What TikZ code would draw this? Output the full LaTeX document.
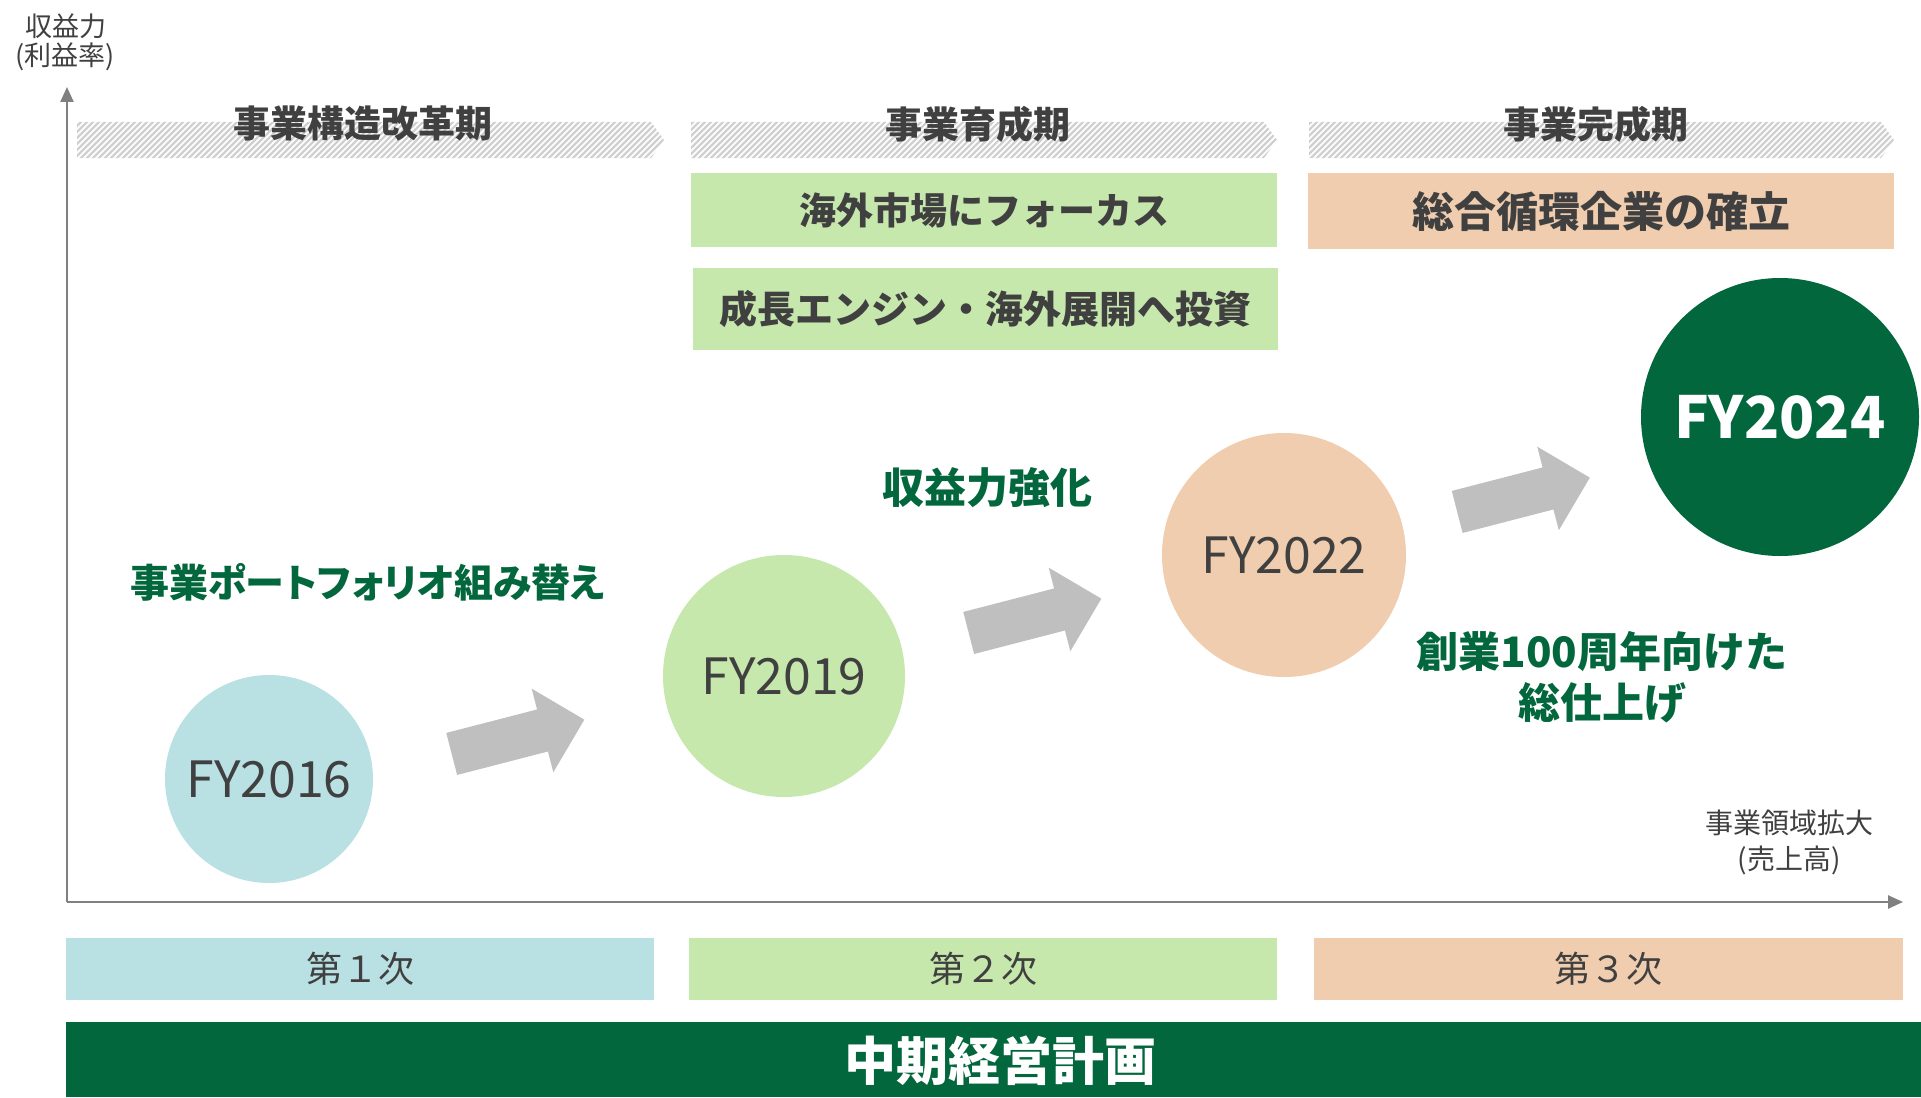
\documentclass[tikz,border=0pt]{standalone}
\usepackage{fontspec}
\setmainfont{Noto Sans CJK JP}
\newfontfamily\jpp{Noto Sans CJK JP}[RawFeature=+palt]
\usetikzlibrary{shapes.arrows,arrows.meta}
\definecolor{dkgreen}{RGB}{3,103,61}
\definecolor{ltblue}{RGB}{185,225,228}
\definecolor{ltgreen}{RGB}{198,232,173}
\definecolor{peach}{RGB}{239,205,174}
\definecolor{arrowgray}{RGB}{191,191,191}
\definecolor{axisgray}{RGB}{128,128,128}
\definecolor{txtgray}{RGB}{64,64,64}
\definecolor{hatchgray}{RGB}{208,208,208}
\newcommand\fsz[2]{\fontsize{#1}{#2}\selectfont}
\tikzset{
  axisline/.style={axisgray, line width=2.5pt, -{Triangle[length=15pt,width=13pt]}},
  axislabel/.style={inner sep=0pt, text=txtgray, font=\fsz{27}{33}, align=center},
  hatchline/.style={hatchgray, line width=2.2pt},
  bannerlabel/.style={inner sep=0pt, text=txtgray, font=\fsz{37}{40}\bfseries},
  focusbox/.style={rectangle, inner sep=0pt, text=txtgray, font=\bfseries},
  fycircle/.style={circle, inner sep=0pt, text=txtgray, font=\fsz{50}{55}},
  blockarrow/.style={single arrow, fill=arrowgray, draw=none, minimum height=137pt,
     single arrow head extend=21.5pt, single arrow tip angle=90,
     inner sep=0pt, rotate=14.5, anchor=tail},
  greenlabel/.style={inner sep=0pt, text=dkgreen, font=\fsz{42}{51}\bfseries, align=center},
  phasebox/.style={rectangle, inner sep=0pt, minimum height=62pt, text=txtgray, font=\fsz{36}{40}},
}
\begin{document}
\begin{tikzpicture}[x=1pt,y=-1pt]
\useasboundingbox (0,0) rectangle (1921,1097);

% axes
\coordinate (O) at (67,902);
\coordinate (ytop) at (67,87);
\coordinate (xend) at (1903,902);
\draw[axisline] (O) -- (ytop);
\draw[axisline] (O) -- (xend);
\node[axislabel] (ylab1) at (66,26) {収益力};
\node[axislabel] (ylab2) at (65,57) {(利益率)};
\node[axislabel, font=\fsz{28}{33}] (xlab1) at (1789,823) {事業領域拡大};
\node[axislabel, font=\fsz{28}{33}] (xlab2) at (1789,860) {(売上高)};

% hatched banners
\begin{scope}
  \clip (77,122) -- (651,122) -- (664,140) -- (651,158) -- (77,158) -- cycle;
  \foreach \k in {37,43,...,670} \draw[hatchline] (\k,160) -- ++(42,-42);
\end{scope}
\begin{scope}
  \clip (691,122) -- (1264,122) -- (1277,140) -- (1264,158) -- (691,158) -- cycle;
  \foreach \k in {649,655,...,1282} \draw[hatchline] (\k,160) -- ++(42,-42);
\end{scope}
\begin{scope}
  \clip (1309,122) -- (1881,122) -- (1894,140) -- (1881,158) -- (1309,158) -- cycle;
  \foreach \k in {1267,1273,...,1900} \draw[hatchline] (\k,160) -- ++(42,-42);
\end{scope}
\node[bannerlabel] (ban1) at (363,124) {事業構造改革期};
\node[bannerlabel] (ban2) at (978,124) {事業育成期};
\node[bannerlabel] (ban3) at (1596,124) {事業完成期};

% focus boxes
\node[focusbox, fill=ltgreen, minimum width=586pt, minimum height=74pt, font=\fsz{37}{40}\bfseries] (focus1) at (984,210) {海外市場にフォーカス};
\node[focusbox, fill=ltgreen, minimum width=585pt, minimum height=82pt, font=\fsz{38}{40}\bfseries] (focus2) at (985.5,309) {成長エンジン・海外展開へ投資};
\node[focusbox, fill=peach, minimum width=586pt, minimum height=76pt, font=\fsz{42}{45}\bfseries] (focus3) at (1601,211) {総合循環企業の確立};

% milestone circles
\node[fycircle, fill=ltblue, minimum size=208pt] (fy16) at (269,779) {FY2016};
\node[fycircle, fill=ltgreen, minimum size=242pt] (fy19) at (784,676) {FY2019};
\node[fycircle, fill=peach, minimum size=244pt] (fy22) at (1284,555) {FY2022};
\node[fycircle, fill=dkgreen, minimum size=278pt, text=white, font=\fsz{58}{60}\bfseries] (fy24) at (1780,417) {FY2024};

% block arrows (placed by their tail)
\node[blockarrow] (arr1) at (451.5,754) {\rule{0pt}{43pt}};
\node[blockarrow] (arr2) at (968.5,633) {\rule{0pt}{43pt}};
\node[blockarrow] (arr3) at (1457,512) {\rule{0pt}{43pt}};

% green labels
\node[greenlabel, font=\fsz{39}{45}\bfseries\jpp] (lab1) at (368,582) {事業ポートフォリオ組み替え};
\node[greenlabel] (lab2) at (987,488) {収益力強化};
\node[greenlabel] (lab3) at (1602,677) {創業100周年向けた\\総仕上げ};

% phase boxes
\node[phasebox, fill=ltblue, minimum width=588pt] (ph1) at (360,969) {第１次};
\node[phasebox, fill=ltgreen, minimum width=588pt] (ph2) at (983,969) {第２次};
\node[phasebox, fill=peach, minimum width=589pt] (ph3) at (1608.5,969) {第３次};

% plan bar
\node[rectangle, fill=dkgreen, inner sep=0pt, minimum width=1855pt, minimum height=75pt] (bar) at (993.5,1059.5) {};
\node[inner sep=0pt, text=white, font=\fsz{52}{56}\bfseries] (bartext) at (1000,1061) {中期経営計画};
\end{tikzpicture}
\end{document}
